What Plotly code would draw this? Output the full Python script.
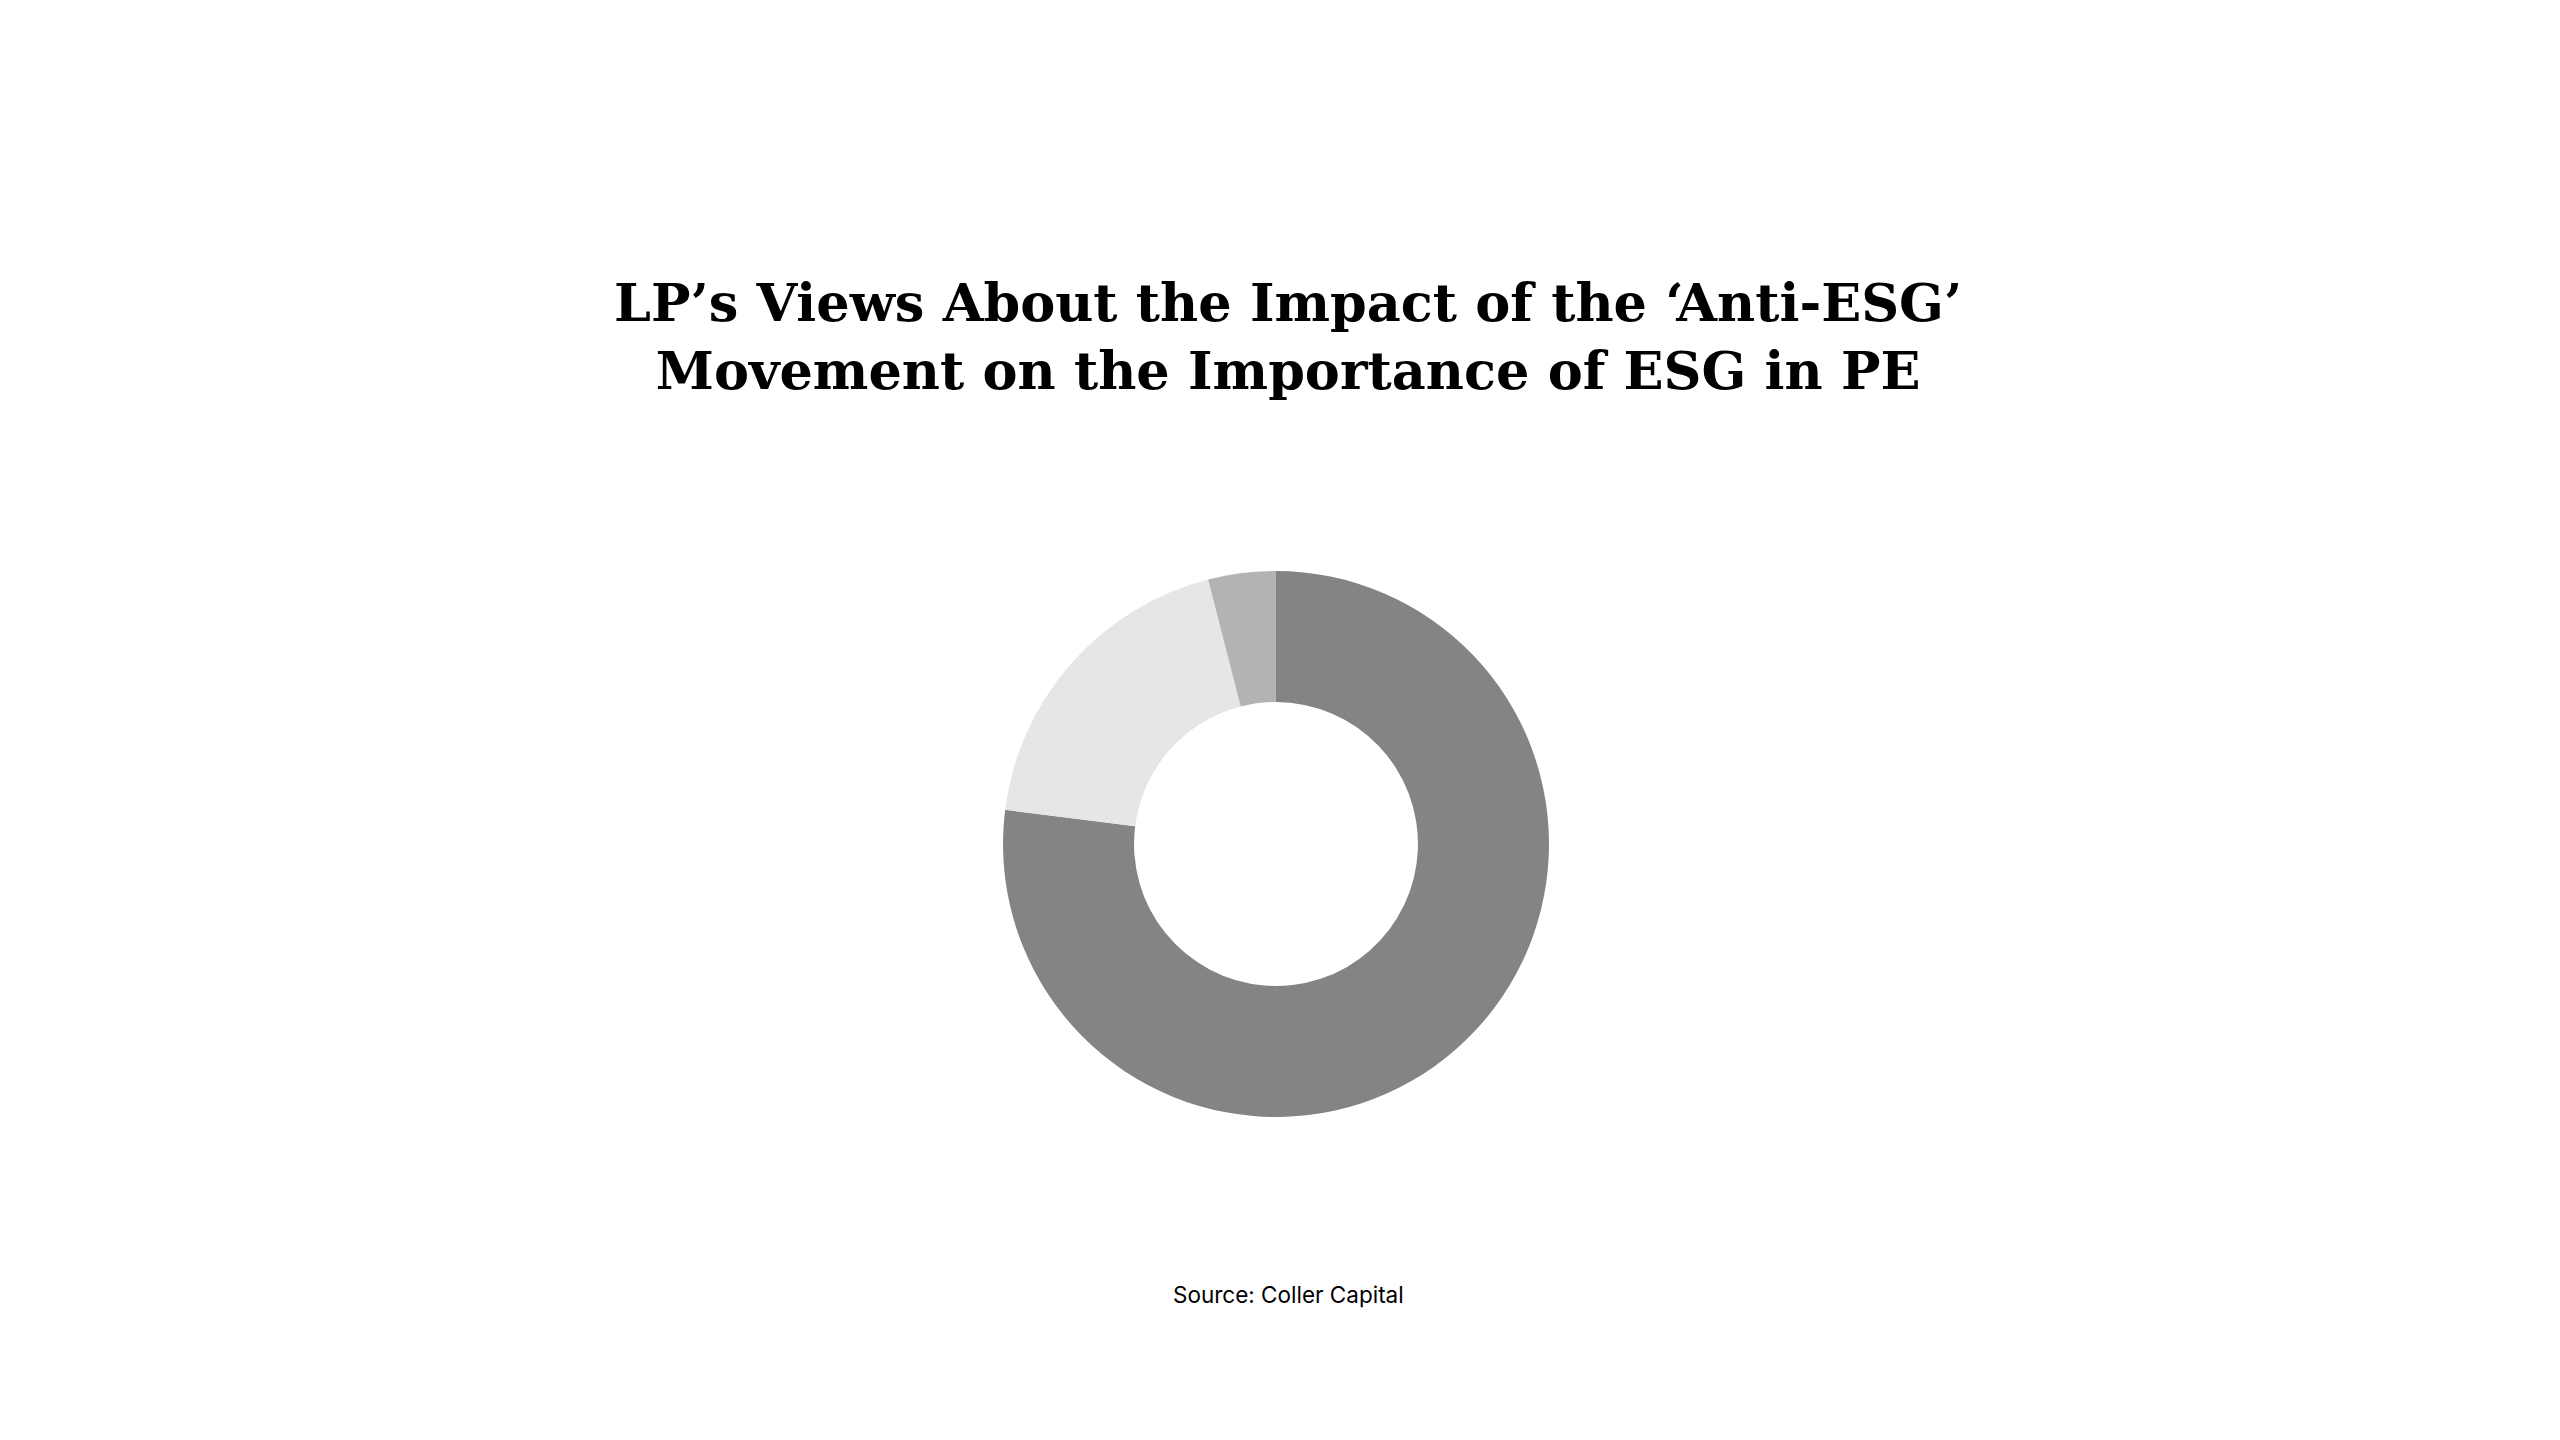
import plotly.graph_objects as go

# LP answers (share of respondents, %), read clockwise from 12 o'clock
answers = ["No impact", "ESG will become less important", "ESG will become more important"]
shares = [77, 19, 4]
slice_colors = ["#848484", "#e6e6e6", "#b3b3b3"]

title_text = "LP\u2019s Views About the Impact of the \u2018Anti-ESG\u2019<br>Movement on the Importance of ESG in PE"
source_text = "Source: Coller Capital"

W, H = 2560, 1440
cx, cy, r = 1268, 836, 273

fig = go.Figure()
fig.add_trace(go.Pie(
    labels=answers,
    values=shares,
    hole=0.52,
    sort=False,
    direction="clockwise",
    rotation=0,
    textinfo="none",
    hoverinfo="label+percent",
    marker=dict(colors=slice_colors, line=dict(width=0)),
    domain=dict(x=[(cx - 400) / W, (cx + 400) / W],
                y=[(H - cy - r) / H, (H - cy + r) / H]),
    showlegend=False,
))

fig.add_annotation(
    text="<b>" + title_text + "</b>",
    x=0.5, y=(H - 329) / H, xref="paper", yref="paper",
    xanchor="center", yanchor="middle", showarrow=False,
    font=dict(family="DejaVu Serif", size=52.5, color="#000000"),
)
fig.add_annotation(
    text=source_text,
    x=0.5, y=(H - 1286) / H, xref="paper", yref="paper",
    xanchor="center", yanchor="middle", showarrow=False,
    font=dict(family="Inter", size=22.5, color="#000000"),
)

fig.update_layout(
    width=W, height=H,
    margin=dict(l=0, r=0, t=0, b=0),
    paper_bgcolor="#ffffff",
    plot_bgcolor="#ffffff",
)

fig.write_html("out.html")
